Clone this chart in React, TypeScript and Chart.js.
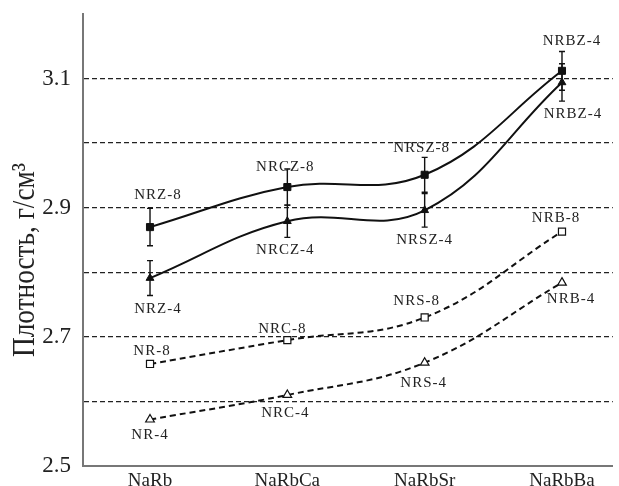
import React, { useEffect, useRef } from 'react';
import { Chart, registerables } from 'chart.js';
Chart.register(...registerables);

const categories = ['NaRb', 'NaRbCa', 'NaRbSr', 'NaRbBa'];
const nrz8 = [2.870, 2.932, 2.951, 3.112];
const nrz8Err = [0.029, 0.028, 0.027, 0.030];
const nrz4 = [2.791, 2.879, 2.896, 3.094];
const nrz4Err = [0.027, 0.025, 0.026, 0.029];
const nr8 = [2.658, 2.695, 2.730, 2.863];
const nr4 = [2.572, 2.610, 2.660, 2.784];
const nrz8Labels = ['NRZ-8', 'NRCZ-8', 'NRSZ-8', 'NRBZ-4'];
const nrz4Labels = ['NRZ-4', 'NRCZ-4', 'NRSZ-4', 'NRBZ-4'];
const nr8Labels = ['NR-8', 'NRC-8', 'NRS-8', 'NRB-8'];
const nr4Labels = ['NR-4', 'NRC-4', 'NRS-4', 'NRB-4'];
const yTickLabels = [2.5, 2.7, 2.9, 3.1];
const yTitle = 'Плотность, г/см³';

// label placement (pixel offsets from the point), styling only
const labelOffsets = [
  [[8, -32], [-2, -20], [-3, -27], [10, -30]],
  [[8, 31], [-2, 29], [0, 30], [11, 32]],
  [[2, -13], [-5, -11], [-8, -16], [-6, -14]],
  [[0, 16], [-2, 18], [-1, 20], [9, 16]],
];
const seriesLabels = [nrz8Labels, nrz4Labels, nr8Labels, nr4Labels];
const seriesErrors = [nrz8Err, nrz4Err, null, null];

const SERIF = "'Liberation Serif', 'DejaVu Serif', serif";

const toPts = (arr: number[]) => arr.map((v, i) => ({ x: i, y: v }));

const overlayPlugin = {
  id: 'overlay',
  beforeDatasetsDraw(chart: any) {
    const ctx = chart.ctx;
    const xs = chart.scales.x;
    const ys = chart.scales.y;
    ctx.save();
    ctx.strokeStyle = '#111';
    ctx.lineWidth = 1.4;
    seriesErrors.forEach((errs, si) => {
      if (!errs) return;
      const vals = chart.data.datasets[si].data;
      vals.forEach((p: any, i: number) => {
        const x = xs.getPixelForValue(p.x);
        const yt = ys.getPixelForValue(p.y + errs[i]);
        const yb = ys.getPixelForValue(p.y - errs[i]);
        ctx.beginPath();
        ctx.moveTo(x, yt);
        ctx.lineTo(x, yb);
        ctx.moveTo(x - 3, yt);
        ctx.lineTo(x + 3, yt);
        ctx.moveTo(x - 3, yb);
        ctx.lineTo(x + 3, yb);
        ctx.stroke();
      });
    });
    ctx.restore();
  },
  afterDatasetsDraw(chart: any) {
    const ctx = chart.ctx;
    const xs = chart.scales.x;
    const ys = chart.scales.y;
    ctx.save();
    ctx.fillStyle = '#222';
    ctx.font = `15px ${SERIF}`;
    (ctx as any).letterSpacing = '1px';
    ctx.textAlign = 'center';
    ctx.textBaseline = 'middle';
    seriesLabels.forEach((labels, si) => {
      const vals = chart.data.datasets[si].data;
      labels.forEach((t, i) => {
        const p = vals[i];
        const x = xs.getPixelForValue(p.x) + labelOffsets[si][i][0];
        const y = ys.getPixelForValue(p.y) + labelOffsets[si][i][1];
        ctx.fillText(t, x, y);
      });
    });
    (ctx as any).letterSpacing = '0px';
    // y axis title
    ctx.font = `32px ${SERIF}`;
    const w = ctx.measureText(yTitle).width;
    ctx.translate(26, 260);
    ctx.rotate(-Math.PI / 2);
    ctx.scale(194 / w, 1);
    ctx.fillText(yTitle, 0, 0);
    ctx.restore();
  },
};

export default function App() {
  const ref = useRef<HTMLCanvasElement>(null);
  useEffect(() => {
    document.body.style.margin = '0';
    const near = (a: number, b: number) => Math.abs(a - b) < 1e-6;
    const chart = new Chart(ref.current as HTMLCanvasElement, {
      type: 'line',
      data: {
        datasets: [
          {
            data: toPts(nrz8),
            borderColor: '#111',
            backgroundColor: '#111',
            borderWidth: 2,
            pointStyle: 'rect',
            pointRadius: 5,
            pointBorderWidth: 1,
            tension: 0.4,
          },
          {
            data: toPts(nrz4),
            borderColor: '#111',
            backgroundColor: '#111',
            borderWidth: 2,
            pointStyle: 'triangle',
            pointRadius: 4.5,
            pointBorderWidth: 1,
            tension: 0.4,
          },
          {
            data: toPts(nr8),
            borderColor: '#111',
            backgroundColor: '#fff',
            borderWidth: 2,
            borderDash: [6, 4],
            pointStyle: 'rect',
            pointRadius: 5,
            pointBorderWidth: 1.2,
            tension: 0.4,
          },
          {
            data: toPts(nr4),
            borderColor: '#111',
            backgroundColor: '#fff',
            borderWidth: 2,
            borderDash: [6, 4],
            pointStyle: 'triangle',
            pointRadius: 5,
            pointBorderWidth: 1.2,
            tension: 0.4,
          },
        ],
      },
      options: {
        animation: false,
        responsive: false,
        layout: { padding: { top: 14, left: 0, right: 0, bottom: 0 } },
        plugins: { legend: { display: false }, tooltip: { enabled: false } },
        scales: {
          x: {
            type: 'linear',
            min: -0.488,
            max: 3.37,
            afterBuildTicks: (s: any) => {
              s.ticks = categories.map((_, i) => ({ value: i }));
            },
            afterFit: (s: any) => {
              s.height = 20;
              s.paddingLeft = 0;
              s.paddingRight = 0;
            },
            grid: { display: false, drawTicks: false },
            border: { display: true, color: '#777', width: 2 },
            ticks: {
              autoSkip: false,
              maxRotation: 0,
              padding: 4,
              color: '#222',
              font: { family: SERIF, size: 19 },
              callback: (v: any) => categories[Math.round(Number(v))] ?? '',
            },
          },
          y: {
            type: 'linear',
            min: 2.5,
            max: 3.2,
            afterFit: (s: any) => {
              s.width = 83;
              s.paddingTop = 0;
              s.paddingBottom = 0;
            },
            grid: {
              drawTicks: false,
              color: (c: any) =>
                near(c.tick.value, 2.5) || near(c.tick.value, 3.2) ? 'rgba(0,0,0,0)' : '#222',
              lineWidth: 1.3,
            },
            border: { display: true, color: '#777', width: 2, dash: [5, 3] as any },
            ticks: {
              stepSize: 0.1,
              autoSkip: false,
              padding: 12,
              color: '#222',
              font: { family: SERIF, size: 23 },
              callback: (v: any) => {
                const n = Number(v);
                return yTickLabels.some((t) => near(t, n)) ? n.toFixed(1) : '';
              },
            },
          },
        },
      },
      plugins: [overlayPlugin],
    } as any);
    return () => chart.destroy();
  }, []);
  return <canvas ref={ref} width={619} height={486} />;
}
